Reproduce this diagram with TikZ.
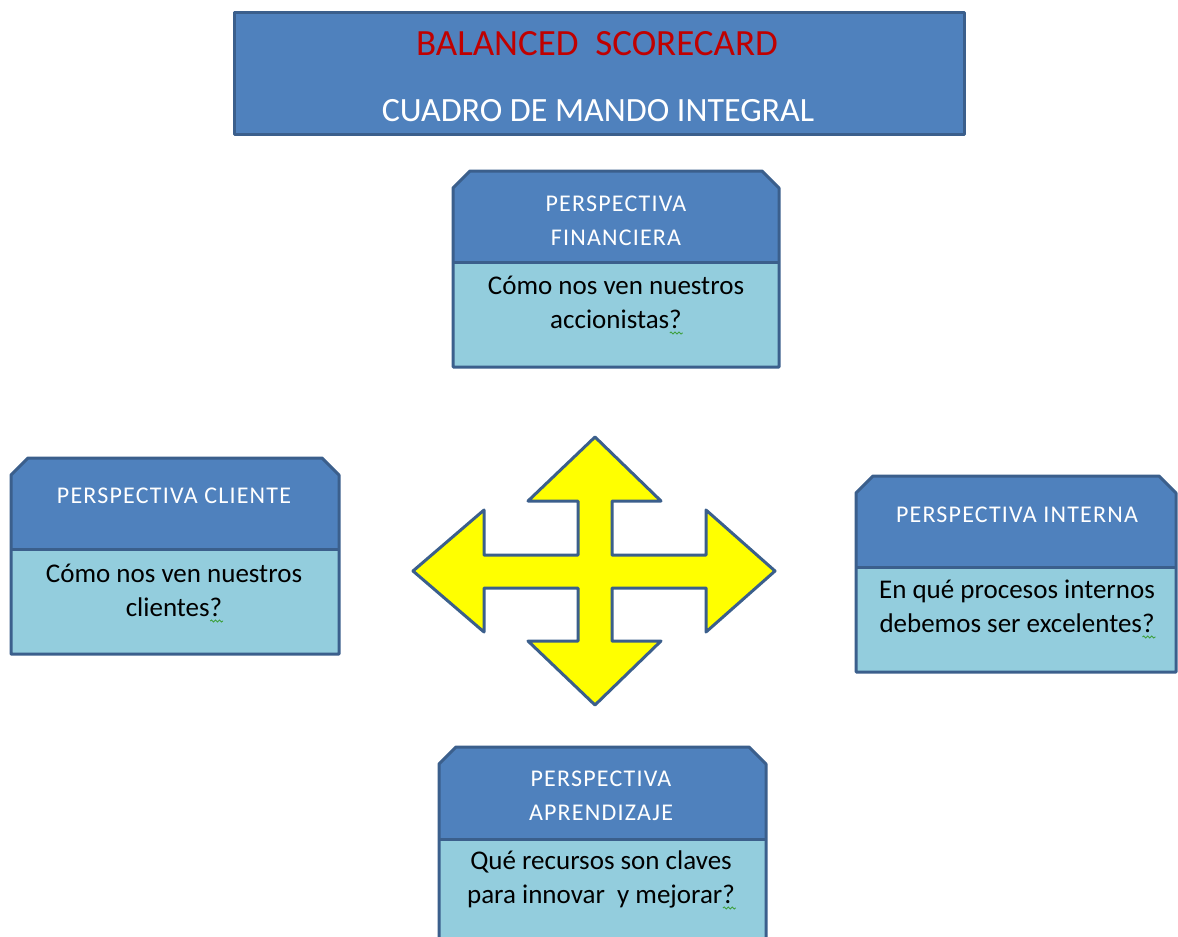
\documentclass[tikz,border=0pt]{standalone}
\usepackage{fontspec}
\setmainfont{Carlito}
\newfontfamily\hdrfont[LetterSpace=5]{Carlito}
\usetikzlibrary{decorations.pathmorphing}

\definecolor{hdrblue}{HTML}{4F81BD}
\definecolor{bodyaqua}{HTML}{93CDDD}
\definecolor{edgeblue}{HTML}{3B5F8C}
\definecolor{titlered}{HTML}{C00000}
\definecolor{arrowyellow}{HTML}{FFFF00}
\definecolor{spellgreen}{HTML}{3FA03F}

\tikzset{
  edge/.style={draw=edgeblue, line width=3pt, line join=round},
  % anchor=base sits on the last line of a multi-line node
  hdrtext/.style={text=white, font=\hdrfont\fontsize{24}{33.5}\selectfont, align=center, inner sep=0pt, anchor=base},
  bodytext/.style={text=black, font=\fontsize{27}{33.5}\selectfont, align=center, inner sep=0pt, anchor=base},
  squig/.style={draw=spellgreen, line width=0.9pt, decorate,
    decoration={snake, amplitude=1pt, segment length=4pt}}
}

% question mark carrying a spell-check squiggle
\newcommand{\sqmark}{?\tikz[overlay,x=1pt,y=1pt,baseline=0pt]\path[squig] (-12,-5) -- (1,-5);}

% perspective card: #1 left, #2 right, #3 top, #4 divider, #5 bottom
\newcommand{\card}[5]{%
  \fill[hdrblue] (#1,#4) -- (#1,#3+17) -- (#1+17,#3) -- (#2-17,#3) -- (#2,#3+17) -- (#2,#4) -- cycle;
  \fill[bodyaqua] (#1,#4) rectangle (#2,#5);
  \path[edge] (#1,#5) -- (#1,#3+17) -- (#1+17,#3) -- (#2-17,#3) -- (#2,#3+17) -- (#2,#5) -- cycle;
  \path[edge] (#1,#4) -- (#2,#4);
}

\begin{document}
\begin{tikzpicture}[x=1pt,y=-1pt]
\useasboundingbox[fill=white] (0,0) rectangle (1178,937);

% title banner
\path[fill=hdrblue, edge] (234,12) rectangle (964,134);
\node[text=titlered, font=\fontsize{37}{40}\selectfont, inner sep=0pt, anchor=base] (title) at (597,55) {BALANCED\ \ SCORECARD};
\node[text=white, font=\fontsize{34}{40}\selectfont, inner sep=0pt, anchor=base] (subtitle) at (598,121) {CUADRO DE MANDO INTEGRAL};

% the four perspectives
\card{453}{779}{171}{262}{367}
\node[hdrtext] (finH) at (616,245) {PERSPECTIVA\\FINANCIERA};
\node[bodytext] (finB) at (616,328) {Cómo nos ven nuestros\\accionistas\sqmark};

\card{11}{339}{458}{549}{654}
\node[hdrtext] (cliH) at (174,503) {PERSPECTIVA CLIENTE};
\node[bodytext] (cliB) at (174,616) {Cómo nos ven nuestros\\clientes\sqmark};

\card{856}{1176}{476}{567}{672}
\node[hdrtext] (intH) at (1017,522) {PERSPECTIVA INTERNA};
\node[bodytext] (intB) at (1017,632) {En qué procesos internos\\debemos ser excelentes\sqmark};

\card{439}{766}{747}{839}{960}
\node[hdrtext] (aprH) at (601,820) {PERSPECTIVA\\APRENDIZAJE};
\node[bodytext] (aprB) at (601,903) {Qué recursos son claves\\para innovar\ \ y mejorar\sqmark};

% four-way arrow in the centre
\path[fill=arrowyellow, edge]
  (595,437) -- (661,501) -- (612,501) -- (612,555) -- (706,555) -- (706,510)
  -- (775,571) -- (706,632) -- (706,588) -- (612,588) -- (612,641) -- (661,641)
  -- (595,705) -- (528,641) -- (578,641) -- (578,588) -- (484,588) -- (484,632)
  -- (413,571) -- (484,510) -- (484,555) -- (578,555) -- (578,501) -- (528,501) -- cycle;
\end{tikzpicture}
\end{document}
